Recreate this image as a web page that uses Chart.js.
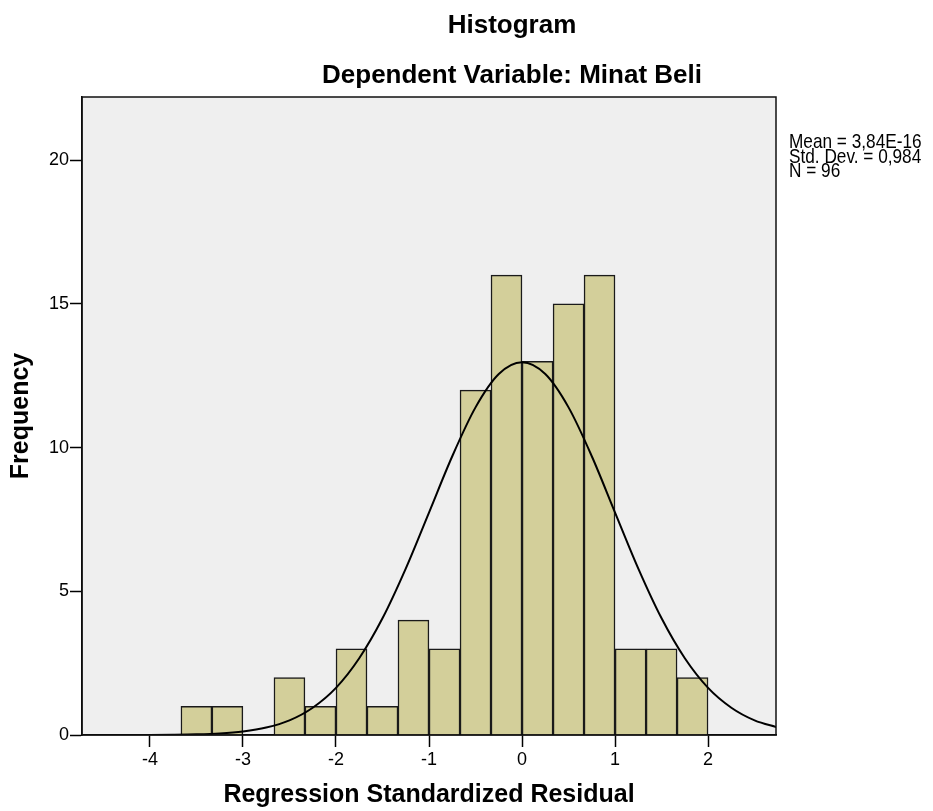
<!DOCTYPE html>
<html>
<head>
<meta charset="utf-8">
<script src="https://cdn.jsdelivr.net/npm/chart.js@4.4.1/dist/chart.umd.min.js"></script>
<style>
  body { margin: 0; background: #fff; }
  #wrap { width: 933px; height: 811px; position: relative; }
</style>
</head>
<body>
<div id="wrap"><canvas id="chart"></canvas></div>
<script>
// histogram bins (centres, width 1/3) and counts
const binCenters = [-3.5, -3.167, -2.833, -2.5, -2.167, -1.833, -1.5, -1.167, -0.833, -0.5, -0.167, 0.167, 0.5, 0.833, 1.167, 1.5, 1.833];
const binCounts = [1, 1, 0, 2, 1, 3, 1, 4, 3, 12, 16, 13, 15, 16, 3, 3, 2];

// normal curve
const curveX = [-4.75, -4.5, -4.25, -4, -3.75, -3.5, -3.25, -3, -2.75, -2.5, -2.25, -2, -1.75, -1.5, -1.25, -1, -0.75, -0.5, -0.25, 0, 0.25, 0.5, 0.75, 1, 1.25, 1.5, 1.75, 2, 2.25, 2.5, 2.75];
const curveY = [0.0001, 0.0004, 0.001, 0.003, 0.009, 0.023, 0.055, 0.124, 0.26, 0.51, 0.95, 1.64, 2.67, 4.06, 5.79, 7.74, 9.70, 11.40, 12.56, 12.97, 12.56, 11.40, 9.70, 7.74, 5.79, 4.06, 2.67, 1.64, 0.95, 0.51, 0.26];

const xTicks = [-4, -3, -2, -1, 0, 1, 2];
const yTicks = [0, 5, 10, 15, 20];

const titleText = "Histogram";
const subtitleText = "Dependent Variable: Minat Beli";
const statsLines = ["Mean = 3,84E-16", "Std. Dev. = 0,984", "N = 96"];

const font = "'Liberation Sans', Arial, sans-serif";

const framePlugin = {
  id: "frame",
  beforeDraw(chart) {
    const { ctx, chartArea: a } = chart;
    ctx.save();
    ctx.fillStyle = "#efefef";
    ctx.fillRect(a.left, a.top, a.right - a.left, a.bottom - a.top);
    ctx.restore();
  },
  afterDraw(chart) {
    const { ctx, chartArea: a } = chart;
    ctx.save();
    ctx.strokeStyle = "#111";
    ctx.lineWidth = 1.5;
    ctx.strokeRect(a.left, a.top, a.right - a.left, a.bottom - a.top);

    ctx.fillStyle = "#000";
    ctx.textAlign = "center";
    ctx.textBaseline = "alphabetic";
    ctx.font = "bold 26px " + font;
    ctx.fillText(titleText, 512, 33);
    ctx.fillText(subtitleText, 512, 83);

    // stats text is squeezed sideways like in the original
    ctx.textAlign = "left";
    ctx.font = "21px " + font;
    ctx.translate(789, 0);
    ctx.scale(0.82, 1);
    statsLines.forEach((t, i) => ctx.fillText(t, 0, 148 + i * 14.5));
    ctx.restore();
  }
};

new Chart(document.getElementById("chart"), {
  data: {
    datasets: [
      {
        type: "line",
        data: curveX.map((x, i) => ({ x: x, y: curveY[i] })),
        borderColor: "#000",
        borderWidth: 2,
        pointRadius: 0,
        cubicInterpolationMode: "monotone",
        fill: false,
        order: 0
      },
      {
        type: "bar",
        data: binCenters.map((x, i) => ({ x: x, y: binCounts[i] })),
        backgroundColor: "#d3cf9a",
        borderColor: "#1a1a1a",
        borderWidth: 1.5,
        barPercentage: 1,
        categoryPercentage: 1,
        order: 1
      }
    ]
  },
  options: {
    responsive: true,
    maintainAspectRatio: false,
    animation: false,
    layout: { padding: { top: 97, right: 157, left: 0, bottom: 0 } },
    plugins: {
      legend: { display: false },
      tooltip: { enabled: false }
    },
    scales: {
      x: {
        type: "linear",
        min: -4.73,
        max: 2.73,
        offset: false,
        afterBuildTicks: s => { s.ticks = xTicks.map(v => ({ value: v })); },
        afterFit: s => { s.height = 76; },
        grid: { offset: false, drawOnChartArea: false, tickLength: 12, tickColor: "#000", tickWidth: 1.5 },
        border: { color: "#000", width: 1.5 },
        ticks: { color: "#000", padding: 2, font: { family: font, size: 18 } },
        title: {
          display: true,
          text: "Regression Standardized Residual",
          color: "#000",
          padding: { top: 0, bottom: 1 },
          font: { family: font, size: 25, weight: "bold" }
        }
      },
      y: {
        min: 0,
        max: 22.2,
        afterBuildTicks: s => { s.ticks = yTicks.map(v => ({ value: v })); },
        afterFit: s => { s.width = 82; },
        grid: { drawOnChartArea: false, tickLength: 12, tickColor: "#000", tickWidth: 1.5 },
        border: { color: "#000", width: 1.5 },
        ticks: { color: "#000", padding: 1, font: { family: font, size: 18 } },
        title: {
          display: true,
          text: "Frequency",
          color: "#000",
          padding: { top: 6, bottom: 0 },
          font: { family: font, size: 25, weight: "bold" }
        }
      }
    }
  },
  plugins: [framePlugin]
});
</script>
</body>
</html>
